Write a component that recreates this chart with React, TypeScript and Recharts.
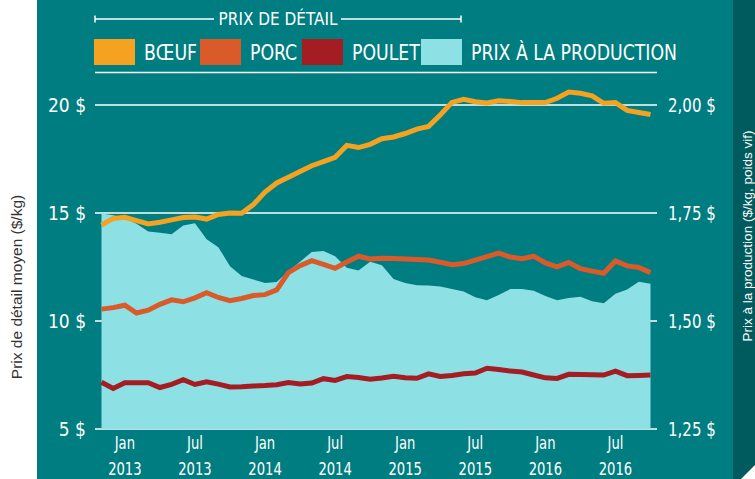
import React from "react";
import { ComposedChart, Area, Line, XAxis, YAxis, CartesianGrid } from "recharts";

// mois de nov. 2012 à oct. 2016
const mois = [
  "2012-11", "2012-12",
  "2013-01", "2013-02", "2013-03", "2013-04", "2013-05", "2013-06",
  "2013-07", "2013-08", "2013-09", "2013-10", "2013-11", "2013-12",
  "2014-01", "2014-02", "2014-03", "2014-04", "2014-05", "2014-06",
  "2014-07", "2014-08", "2014-09", "2014-10", "2014-11", "2014-12",
  "2015-01", "2015-02", "2015-03", "2015-04", "2015-05", "2015-06",
  "2015-07", "2015-08", "2015-09", "2015-10", "2015-11", "2015-12",
  "2016-01", "2016-02", "2016-03", "2016-04", "2016-05", "2016-06",
  "2016-07", "2016-08", "2016-09", "2016-10",
];

// prix de détail ($/kg)
const boeuf = [
  14.44, 14.75, 14.8, 14.65, 14.49, 14.57, 14.68, 14.79, 14.81, 14.72,
  14.93, 15.0, 14.99, 15.39, 15.97, 16.39, 16.66, 16.92, 17.19, 17.38,
  17.58, 18.13, 18.03, 18.18, 18.44, 18.52, 18.68, 18.88, 19.01, 19.54,
  20.12, 20.26, 20.15, 20.09, 20.2, 20.16, 20.11, 20.11, 20.11, 20.31,
  20.6, 20.54, 20.42, 20.08, 20.11, 19.75, 19.65, 19.56,
];
const porc = [
  10.55, 10.62, 10.73, 10.37, 10.5, 10.77, 10.98, 10.89, 11.07, 11.31,
  11.09, 10.94, 11.04, 11.18, 11.22, 11.44, 12.24, 12.56, 12.79, 12.62,
  12.44, 12.73, 13.0, 12.87, 12.9, 12.89, 12.87, 12.85, 12.82, 12.72,
  12.61, 12.66, 12.82, 12.98, 13.14, 12.96, 12.88, 13.0, 12.69, 12.51,
  12.71, 12.42, 12.31, 12.21, 12.78, 12.55, 12.48, 12.24,
];
const poulet = [
  7.16, 6.88, 7.14, 7.14, 7.14, 6.92, 7.07, 7.28, 7.06, 7.19,
  7.08, 6.95, 6.96, 6.99, 7.01, 7.05, 7.15, 7.08, 7.13, 7.33,
  7.25, 7.43, 7.38, 7.3, 7.36, 7.44, 7.37, 7.35, 7.55, 7.43,
  7.48, 7.56, 7.59, 7.81, 7.75, 7.68, 7.64, 7.5, 7.37, 7.34,
  7.53, 7.52, 7.51, 7.5, 7.68, 7.47, 7.48, 7.5,
];
// prix à la production ($/kg, poids vif)
const production = [
  1.749, 1.745, 1.737, 1.725, 1.707, 1.704, 1.701, 1.721, 1.726, 1.689,
  1.671, 1.627, 1.604, 1.596, 1.588, 1.59, 1.615, 1.637, 1.66, 1.662,
  1.65, 1.623, 1.617, 1.637, 1.629, 1.597, 1.588, 1.583, 1.582, 1.58,
  1.574, 1.568, 1.555, 1.548, 1.56, 1.574, 1.574, 1.57, 1.558, 1.548,
  1.553, 1.556, 1.546, 1.541, 1.563, 1.573, 1.591, 1.586,
];

const xTickMois = ["2013-01", "2013-07", "2014-01", "2014-07", "2015-01", "2015-07", "2016-01", "2016-07"];
const xTickHaut = ["Jan", "Jul", "Jan", "Jul", "Jan", "Jul", "Jan", "Jul"];
const xTickBas = ["2013", "2013", "2014", "2014", "2015", "2015", "2016", "2016"];
const gaucheTicks = [5, 10, 15, 20];
const droiteTicks = [1.25, 1.5, 1.75, 2.0];

const legende = [
  { nom: "BŒUF", couleur: "#F4A21F" },
  { nom: "PORC", couleur: "#DA5A29" },
  { nom: "POULET", couleur: "#A51C23" },
  { nom: "PRIX À LA PRODUCTION", couleur: "#8DE1E4" },
];
const legendeX = [94, 200, 302, 421];

const data = mois.map((m, i) => ({
  i,
  mois: m,
  boeuf: boeuf[i],
  porc: porc[i],
  poulet: poulet[i],
  production: production[i],
}));

const NARROW = "'Liberation Sans Narrow', 'DejaVu Sans Condensed', 'Roboto Condensed', sans-serif";
const TEAL = "#007D80";

const xTickIdx = xTickMois.map((m) => mois.indexOf(m));

function XTick(props: any) {
  const k = xTickIdx.indexOf(props.payload.value);
  if (k < 0) return null;
  return (
    <g>
      <text transform={`translate(${props.x},449) scale(0.86,1)`} textAnchor="middle" fill="#fff" fontSize={17} fontFamily={NARROW}>
        {xTickHaut[k]}
      </text>
      <text transform={`translate(${props.x},475) scale(0.86,1)`} textAnchor="middle" fill="#fff" fontSize={17} fontFamily={NARROW}>
        {xTickBas[k]}
      </text>
    </g>
  );
}

function RightTick(props: any) {
  const v: number = props.payload.value;
  return (
    <text
      transform={`translate(${props.x},${props.y}) scale(0.88,1)`}
      dy="0.36em"
      textAnchor="start"
      fill="#fff"
      fontSize={19}
      fontFamily={NARROW}
    >
      {`${v.toFixed(2).replace(".", ",")} $`}
    </text>
  );
}

function App() {
  return (
    <div style={{ position: "absolute", left: 0, top: 0, width: 755, height: 479, background: "#fff", overflow: "hidden" }}>
      <div style={{ position: "absolute", left: 37, top: 0, width: 696, height: 479, background: TEAL }} />
      <div style={{ position: "absolute", left: 733, top: 0, width: 22, height: 479, background: "#005B5E" }} />

      <div style={{ position: "absolute", left: 0, top: 0 }}>
        <ComposedChart width={755} height={479} data={data} margin={{ top: 72.6, right: 0, left: 0, bottom: 0 }}>
          <CartesianGrid yAxisId="g" vertical={false} stroke="#ffffff" strokeWidth={1.5} />
          <XAxis
            dataKey="i"
            type="number"
            domain={[0, 47]}
            ticks={xTickIdx}
            padding={{ left: 6.5, right: 6.5 }}
            axisLine={false}
            tickLine={false}
            height={50}
            tick={<XTick />}
            interval={0}
          />
          <YAxis
            yAxisId="g"
            orientation="left"
            width={95}
            domain={[5, 21.5]}
            ticks={gaucheTicks}
            axisLine={false}
            tickLine={false}
            tickMargin={3}
            tickFormatter={(v: number) => `${v} $`}
            tick={{ fill: "#fff", fontSize: 19, fontFamily: NARROW }}
          />
          <YAxis
            yAxisId="d"
            orientation="right"
            width={98}
            domain={[1.25, 2.075]}
            ticks={droiteTicks}
            axisLine={false}
            tickLine={false}
            tickMargin={5}
            tick={<RightTick />}
          />
          <Area
            yAxisId="d"
            dataKey="production"
            type="linear"
            fill="#8DE1E4"
            fillOpacity={1}
            stroke="none"
            isAnimationActive={false}
          />
          <Line yAxisId="g" dataKey="poulet" type="linear" stroke="#A51C23" strokeWidth={5} dot={false} isAnimationActive={false} />
          <Line yAxisId="g" dataKey="porc" type="linear" stroke="#DA5A29" strokeWidth={5} dot={false} isAnimationActive={false} />
          <Line yAxisId="g" dataKey="boeuf" type="linear" stroke="#F4A21F" strokeWidth={5} dot={false} isAnimationActive={false} />
        </ComposedChart>
      </div>

      <svg width={755} height={479} style={{ position: "absolute", left: 0, top: 0, pointerEvents: "none" }}>
        {/* légende */}
        {legende.map((l, k) => (
          <g key={l.nom}>
            <rect x={legendeX[k]} y={39} width={41} height={26} fill={l.couleur} />
            <text
              transform={`translate(${legendeX[k] + 50},59.5) scale(0.895,1)`}
              fill="#fff"
              fontSize={21.5}
              fontFamily={NARROW}
            >
              {l.nom}
            </text>
          </g>
        ))}
        <g stroke="#fff" strokeWidth={1.5}>
          <line x1={95} y1={19} x2={214} y2={19} />
          <line x1={341} y1={19} x2={461} y2={19} />
          <line x1={95} y1={15.5} x2={95} y2={22.5} />
          <line x1={461} y1={15.5} x2={461} y2={22.5} />
        </g>
        <text x={278} y={25} textAnchor="middle" fill="#fff" fontSize={17} fontFamily={NARROW}>
          PRIX DE DÉTAIL
        </text>
        <text
          x={0}
          y={0}
          transform="translate(22,287) rotate(-90)"
          textAnchor="middle"
          fill="#333"
          fontSize={15.5}
          fontFamily="'Liberation Sans', Arial, sans-serif"
        >
          Prix de détail moyen ($/kg)
        </text>
        <text
          x={0}
          y={0}
          transform="translate(752,236) rotate(-90)"
          textAnchor="middle"
          fill="#fff"
          fontSize={13.5}
          fontFamily="'Liberation Sans', Arial, sans-serif"
        >
          Prix à la production ($/kg, poids vif)
        </text>
        <polygon points="755,465 755,479 741,479" fill="#fff" />
      </svg>
    </div>
  );
}

export default App;
